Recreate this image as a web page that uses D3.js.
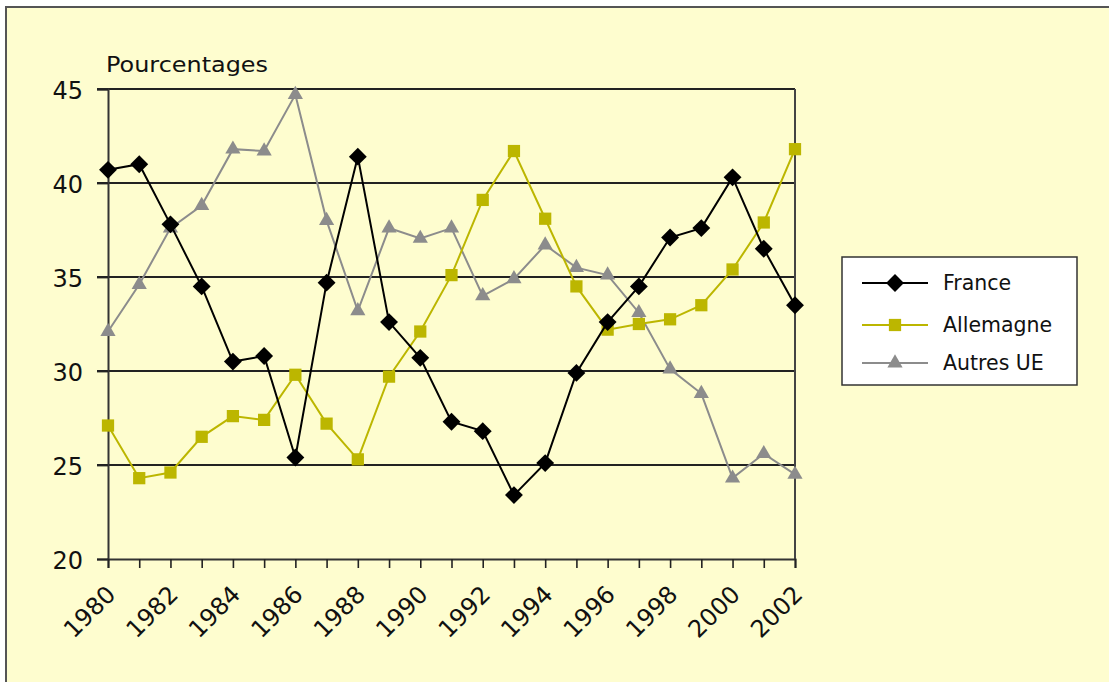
<!DOCTYPE html>
<html>
<head>
<meta charset="utf-8">
<script src="https://cdn.jsdelivr.net/npm/d3@7"></script>
<style>
  html, body { margin: 0; padding: 0; background: #ffffff; }
  svg { display: block; }
  text { font-family: "DejaVu Sans", "Open Sans", sans-serif; fill: #111; }
</style>
</head>
<body>
<svg id="chart" width="1109" height="682"></svg>
<script>
// Parts de marché (en pourcentage), 1980-2002
const years = d3.range(1980, 2003);
const france = [40.7, 41.0, 37.8, 34.5, 30.5, 30.8, 25.4, 34.7, 41.4, 32.6, 30.7, 27.3, 26.8, 23.4, 25.1, 29.9, 32.6, 34.5, 37.1, 37.6, 40.3, 36.5, 33.5];
const allemagne = [27.1, 24.3, 24.6, 26.5, 27.6, 27.4, 29.8, 27.2, 25.3, 29.7, 32.1, 35.1, 39.1, 41.7, 38.1, 34.5, 32.2, 32.5, 32.75, 33.5, 35.4, 37.9, 41.8];
const autresUE = [32.1, 34.6, 37.6, 38.8, 41.8, 41.7, 44.7, 38.0, 33.2, 37.6, 37.05, 37.6, 34.0, 34.9, 36.7, 35.5, 35.1, 33.1, 30.1, 28.8, 24.3, 25.6, 24.5];
const yTicks = [20, 25, 30, 35, 40, 45];
const xTickLabels = d3.range(1980, 2003, 2);
const seriesNames = ["France", "Allemagne", "Autres UE"];

const series = [
  { name: seriesNames[0], values: france, color: "#000000", symbol: "diamond" },
  { name: seriesNames[1], values: allemagne, color: "#bcb600", symbol: "square" },
  { name: seriesNames[2], values: autresUE, color: "#8c8c8c", symbol: "triangle" }
];

const svg = d3.select("#chart");

// Fond et cadre du graphique
svg.append("rect")
  .attr("x", 6).attr("y", 7)
  .attr("width", 1120).attr("height", 700)
  .attr("fill", "#fefdcf")
  .attr("stroke", "#555")
  .attr("stroke-width", 2);

const plot = { left: 108, right: 795, top: 89, bottom: 559 };

const x = d3.scaleLinear().domain([1980, 2002]).range([plot.left, plot.right]);
const y = d3.scaleLinear().domain([20, 45]).range([plot.bottom, plot.top]);

// Lignes de quadrillage horizontales
svg.append("g")
  .selectAll("line")
  .data(yTicks.filter(t => t > 20))
  .join("line")
  .attr("x1", plot.left - 11).attr("x2", plot.right)
  .attr("y1", d => y(d)).attr("y2", d => y(d))
  .attr("stroke", "#222")
  .attr("stroke-width", 1.8);

// Axe vertical gauche
const yAxis = svg.append("g")
  .attr("transform", `translate(${plot.left},0)`)
  .call(d3.axisLeft(y).tickValues(yTicks).tickSize(11).tickPadding(14).tickFormat(d3.format("d")));
yAxis.select(".domain").attr("stroke", "#333").attr("stroke-width", 2);
yAxis.selectAll(".tick line").attr("stroke", "#222").attr("stroke-width", 1.8);
yAxis.selectAll(".tick text")
  .attr("font-size", null)
  .attr("font-family", null)
  .style("font-size", "24px")
  .style("font-family", "'DejaVu Sans', sans-serif")
  .attr("dy", "0.4em")
  .attr("fill", "#111");

// Bord droit de la zone de tracé
svg.append("line")
  .attr("x1", plot.right).attr("x2", plot.right)
  .attr("y1", plot.top).attr("y2", plot.bottom)
  .attr("stroke", "#444").attr("stroke-width", 2);

// Axe horizontal
const xAxis = svg.append("g")
  .attr("transform", `translate(0,${plot.bottom})`)
  .call(d3.axisBottom(x).tickValues(years).tickSize(9).tickFormat(""));
xAxis.select(".domain").attr("stroke", "#333").attr("stroke-width", 2);
xAxis.selectAll(".tick line").attr("stroke", "#222").attr("stroke-width", 1.6);

// Étiquettes des années, inclinées
svg.append("g")
  .selectAll("text")
  .data(xTickLabels)
  .join("text")
  .attr("transform", d => `translate(${x(d) + 9},${plot.bottom + 37}) rotate(-45)`)
  .attr("text-anchor", "end")
  .style("font-size", "24px")
  .text(d => d);

// Titre de l'axe
svg.append("text")
  .attr("x", 106).attr("y", 72)
  .attr("textLength", 162)
  .attr("lengthAdjust", "spacingAndGlyphs")
  .style("font-size", "22px")
  .text("Pourcentages");

// Symboles
const symbolFor = {
  diamond: { type: d3.symbolSquare, size: 160, rotate: 45 },
  square: { type: d3.symbolSquare, size: 150, rotate: 0 },
  triangle: { type: d3.symbolTriangle, size: 100, rotate: 0 }
};

const line = d3.line()
  .x((d, i) => x(years[i]))
  .y(d => y(d));

// Ordre de dessin : Autres UE, Allemagne, France au premier plan
[series[2], series[1], series[0]].forEach(s => {
  const g = svg.append("g");
  g.append("path")
    .datum(s.values)
    .attr("fill", "none")
    .attr("stroke", s.color)
    .attr("stroke-width", 2)
    .attr("d", line);
  const sym = symbolFor[s.symbol];
  g.selectAll("path.pt")
    .data(s.values)
    .join("path")
    .attr("class", "pt")
    .attr("d", d3.symbol().type(sym.type).size(sym.size))
    .attr("transform", (d, i) => `translate(${x(years[i])},${y(d)}) rotate(${sym.rotate})`)
    .attr("fill", s.color);
});

// Légende
const legend = svg.append("g");
legend.append("rect")
  .attr("x", 842).attr("y", 257)
  .attr("width", 235).attr("height", 128)
  .attr("fill", "#ffffff")
  .attr("stroke", "#333")
  .attr("stroke-width", 1.5);

const legendY = [283, 325, 363];
series.forEach((s, i) => {
  const ly = legendY[i];
  legend.append("line")
    .attr("x1", 862).attr("x2", 928)
    .attr("y1", ly).attr("y2", ly)
    .attr("stroke", s.color).attr("stroke-width", 2);
  const sym = symbolFor[s.symbol];
  legend.append("path")
    .attr("d", d3.symbol().type(sym.type).size(sym.size))
    .attr("transform", `translate(895,${ly}) rotate(${sym.rotate})`)
    .attr("fill", s.color);
  legend.append("text")
    .attr("x", 943).attr("y", ly)
    .attr("dy", "0.35em")
    .style("font-size", "20.5px")
    .text(s.name);
});
</script>
</body>
</html>
